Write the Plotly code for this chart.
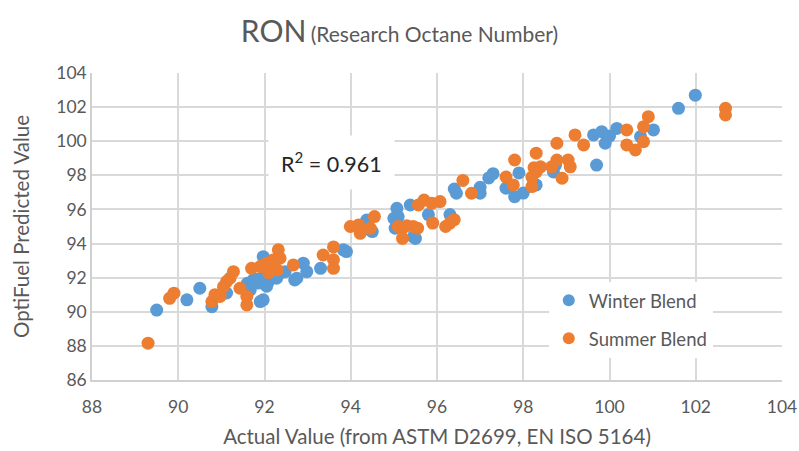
import plotly.graph_objects as go

winter_x = [89.5, 90.2, 90.5, 90.78, 91.12, 91.6, 91.67, 91.74, 91.85, 91.8, 91.95, 92.1,
            91.9, 91.97, 91.97, 92.0, 92.05, 92.28, 92.36, 92.48, 92.7, 92.75, 92.9, 92.98,
            93.3, 93.83, 93.9, 94.37, 94.45, 94.5, 95.0, 95.1, 95.03, 95.07, 95.38, 95.45,
            95.5, 95.8, 96.3, 96.4, 96.45, 97.0, 97.0, 97.2, 97.3, 97.6, 97.8, 97.9, 98.0,
            98.3, 98.7, 98.75, 99.63, 99.7, 99.82, 99.9, 100.0, 100.17, 100.72, 101.02,
            101.6, 101.99]
winter_y = [90.1, 90.7, 91.38, 90.3, 91.1, 91.67, 91.28, 91.87, 91.68, 91.9, 92.0, 91.8,
            90.6, 90.7, 93.23, 91.87, 91.5, 91.97, 92.26, 92.35, 91.87, 91.97, 92.85, 92.35,
            92.55, 93.63, 93.53, 95.38, 94.8, 94.7, 95.48, 95.58, 94.9, 96.07, 96.26, 94.4,
            94.3, 95.7, 95.7, 97.2, 96.95, 97.3, 96.95, 97.85, 98.1, 97.25, 96.75, 98.14, 96.96,
            97.44, 98.2, 98.6, 100.37, 98.6, 100.56, 99.88, 100.3, 100.75, 100.27, 100.66,
            101.93, 102.7]

summer_x = [89.3, 89.8, 89.9, 90.78, 90.85, 90.97, 91.05, 91.12, 91.2, 91.28, 91.43, 91.59,
            91.59, 91.7, 91.9, 92.05, 92.13, 92.2, 92.3, 92.32, 92.36, 92.1, 92.67, 93.36,
            93.6, 93.6, 93.6, 93.99, 94.18, 94.22, 94.45, 94.55, 95.1, 95.2, 95.3, 95.45,
            95.55, 95.2, 95.57, 95.7, 95.88, 96.07, 95.9, 96.2, 96.3, 96.4, 96.6, 96.8, 97.6,
            97.8, 97.77, 98.2, 98.3, 98.2, 98.3, 98.4, 98.25, 98.78, 98.78, 98.66, 99.04,
            99.09, 98.9, 99.2, 99.4, 100.4, 100.4, 100.6, 100.79, 100.79, 100.9, 102.69,
            102.69]
summer_y = [88.16, 90.79, 91.09, 90.6, 91.0, 90.9, 91.47, 91.77, 91.97, 92.35, 91.38, 90.9,
            90.4, 92.55, 92.65, 92.85, 92.45, 93.04, 92.45, 93.63, 93.14, 92.3, 92.75, 93.33,
            93.8, 93.05, 92.55, 95.0, 95.09, 94.6, 94.9, 95.58, 95.0, 94.9, 95.05, 95.0,
            94.9, 94.3, 96.26, 96.55, 96.36, 96.46, 95.2, 95.0, 95.2, 95.4, 97.7, 96.95, 97.9,
            98.9, 97.44, 97.34, 99.3, 97.9, 98.2, 98.5, 98.45, 99.88, 98.9, 98.5, 98.9,
            98.5, 97.83, 100.37, 99.78, 100.66, 99.78, 99.49, 99.97, 100.85, 101.44, 101.93,
            101.54]

x_ticks = [88, 90, 92, 94, 96, 98, 100, 102, 104]
y_ticks = [86, 88, 90, 92, 94, 96, 98, 100, 102, 104]

FONT = "Lato"
GRAY = "#595959"

fig = go.Figure()
fig.add_trace(go.Scatter(x=winter_x, y=winter_y, mode="markers", name="Winter Blend",
                         legendgroup="w",
                         marker=dict(size=13, color="#5B9BD5")))
fig.add_trace(go.Scatter(x=summer_x, y=summer_y, mode="markers", name="Summer Blend",
                         legendgroup="s",
                         marker=dict(size=13, color="#ED7D31")))

fig.update_layout(
    width=799, height=451,
    margin=dict(l=92, r=17, t=73, b=71),
    paper_bgcolor="white", plot_bgcolor="white",
    font=dict(family=FONT, color=GRAY),
    title=dict(text="<span style='font-size:30px'>RON</span> <span style='font-size:21px'>(Research Octane Number)</span>",
               x=0.5, xanchor="center", y=0.92, yanchor="middle",
               font=dict(family=FONT, color=GRAY)),
    xaxis=dict(range=[88, 104], tickvals=x_ticks, showgrid=True, gridcolor="#D9D9D9",
               gridwidth=1.5, zeroline=False, showline=True, linecolor="#D0D0D0", linewidth=1.5,
               tickfont=dict(size=17.5, color=GRAY), ticks="", ticklen=0, automargin=False,
               ticklabelstandoff=10,
               title=dict(text="Actual Value (from ASTM D2699, EN ISO 5164)",
                          font=dict(size=20.5, color=GRAY), standoff=14)),
    yaxis=dict(range=[86, 104], tickvals=y_ticks, showgrid=True, gridcolor="#D9D9D9",
               gridwidth=1.5, zeroline=False, showline=True, linecolor="#D0D0D0", linewidth=1.5,
               tickfont=dict(size=17.5, color=GRAY), ticks="", ticklen=0, automargin=False,
               title=dict(text="OptiFuel Predicted Value",
                          font=dict(size=20.5, color=GRAY), standoff=21)),
    legend=dict(x=0.662, y=0.32, xanchor="left", yanchor="top",
                bgcolor="white", font=dict(size=18.5, color=GRAY),
                traceorder="grouped", tracegroupgap=11, itemsizing="constant"),
    showlegend=True,
)

fig.add_annotation(x=93.55, y=98.75, xref="x", yref="y",
                   text="R<sup>2</sup> = 0.961", showarrow=False,
                   font=dict(family=FONT, size=21.5, color="#262626"),
                   bgcolor="white", borderpad=12)

# remove the default page margin so the 799x451 figure fills the window exactly
fig.write_html("out.html",
               config={"displayModeBar": False},
               post_script="document.body.style.margin='0px';document.body.style.overflow='hidden';")
